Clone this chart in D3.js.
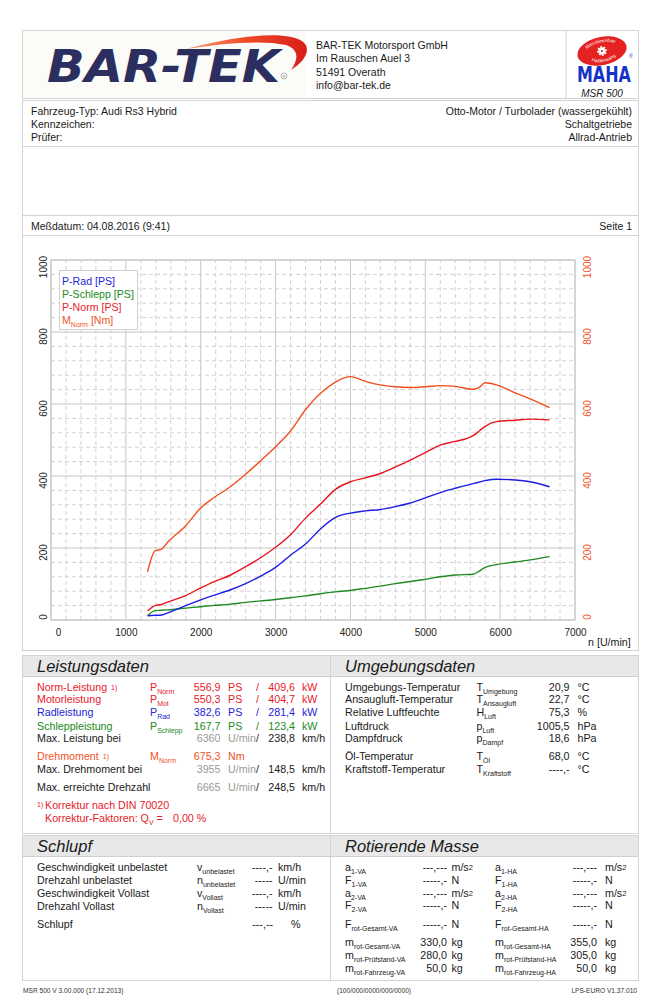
<!DOCTYPE html>
<html><head><meta charset="utf-8">
<script src="https://cdn.jsdelivr.net/npm/d3@7"></script>
<style>body{margin:0;background:#fff} svg{display:block;font-family:"Liberation Sans",Arial,sans-serif}</style>
</head><body><svg id="c" width="659" height="1000"></svg>
<script>
// ---------- chart data ----------
const rpm      = [1290,1390,1480,1550,1800,2000,2150,2400,2600,2800,3000,3200,3400,3600,3800,4000,4200,4400,4600,4800,5000,5200,5400,5640,5720,5800,5950,6200,6400,6660];
const mNorm    = [134,192,197,214,262,311,336,371,405,442,481,525,584,630,661,676,663,653,648,646,648,651,649,641,646,659,653,631,614,590];
const pNorm    = [25,40,43,49,68,89,104,125,148,173,202,237,283,322,363,384,395,407,425,444,465,486,496,512,525,538,551,555,558,556];
const pRad     = [12,13,14,19,40,56,67,84,101,122,146,180,211,253,285,297,303,307,315,325,339,354,366,379,383,387,391,389,384,370];
const pSchlepp = [12,26,27,28,33,37,40,44,49,53,57,62,67,73,78,82,88,94,101,107,113,120,125,127,136,146,154,161,167,176];
const xTicks = [0,1000,2000,3000,4000,5000,6000,7000];
const yTicks = [0,200,400,600,800,1000];
const legendNames = ["P-Rad [PS]","P-Schlepp [PS]","P-Norm [PS]","M"];

const RED="#e8202a", BLUE="#2424d8", GREEN="#218a21", ORANGE="#f0521f", GRAY="#9a9a9a", INK="#1a1a1a";

const svg = d3.select("#c");
const line = (x1,y1,x2,y2,c="#d4d4d4") => svg.append("line").attr("x1",x1).attr("y1",y1).attr("x2",x2).attr("y2",y2).attr("stroke",c).attr("stroke-width",1);
const box = (x,y,w,h,fill="none") => svg.append("rect").attr("x",x+0.5).attr("y",y+0.5).attr("width",w).attr("height",h).attr("fill",fill).attr("stroke","#d4d4d4");
function t(x,y,s,o={}){
  const e = svg.append("text").attr("x",x).attr("y",y).text(s)
    .style("font-size",(o.size||10.7)+"px").attr("fill",o.fill||INK);
  if(o.anchor) e.attr("text-anchor",o.anchor);
  if(o.italic) e.style("font-style","italic");
  if(o.weight) e.style("font-weight",o.weight);
  return e;
}
function sym(x,y,main,sub,fill=INK,size=10.7){
  const e = svg.append("text").attr("x",x).attr("y",y).attr("fill",fill).style("font-size",size+"px");
  e.append("tspan").text(main);
  e.append("tspan").attr("dy",3).style("font-size","7px").text(sub);
  return e;
}

// ---------- header ----------
box(22,30,616,68);
svg.append("rect").attr("x",23).attr("y",31).attr("width",284).attr("height",67).attr("fill","#fbfbf7");
line(566,30,566,98);
const defs = svg.append("defs");
const grad = defs.append("linearGradient").attr("id","sw").attr("x1","0").attr("x2","1");
grad.append("stop").attr("offset","0").attr("stop-color","#f7a07a");
grad.append("stop").attr("offset","0.5").attr("stop-color","#ee4a26");
grad.append("stop").attr("offset","1").attr("stop-color","#d81e1a");
svg.append("path").attr("d","M 186 49 C 228 38, 280 29, 302 41 C 313 49, 304 62, 291 70 C 298 60, 300 50, 286 45 C 262 40, 226 43, 186 49 Z").attr("fill","url(#sw)");
t(47,82,"BAR-TEK",{size:44,weight:"bold",italic:true,fill:"#2b2f60"})
  .attr("textLength",233).attr("lengthAdjust","spacingAndGlyphs").style("font-family","DejaVu Sans");
svg.append("circle").attr("cx",284).attr("cy",76).attr("r",3).attr("fill","none").attr("stroke","#888").attr("stroke-width",0.6);
t(284,78,"R",{size:4,anchor:"middle",fill:"#888"});
["BAR-TEK Motorsport GmbH","Im Rauschen Auel 3","51491 Overath","info@bar-tek.de"].forEach((s,i)=>t(316,49+i*13.3,s,{size:10.5}));

// MAHA emblem
const mg = svg.append("g").attr("transform","rotate(-12,602,51)");
mg.append("ellipse").attr("cx",602).attr("cy",51).attr("rx",25).attr("ry",14).attr("fill","#e42222");
defs.append("path").attr("id","arcT").attr("d","M 583 52 A 19 9.5 0 0 1 621 52");
defs.append("path").attr("id","arcB").attr("d","M 585 51 A 17 11 0 0 0 619 51");
mg.append("text").style("font-size","4.6px").attr("fill","#fff").append("textPath").attr("href","#arcT").attr("startOffset","50%").attr("text-anchor","middle").text("Maschinenbau");
mg.append("text").style("font-size","4.6px").attr("fill","#fff").append("textPath").attr("href","#arcB").attr("startOffset","50%").attr("text-anchor","middle").text("Haldenwang");
for(let k=0;k<8;k++){ mg.append("rect").attr("x",601).attr("y",46.2).attr("width",2).attr("height",2.2).attr("fill","#fff").attr("transform",`rotate(${k*45},602,51)`); }
mg.append("circle").attr("cx",602).attr("cy",51).attr("r",3.2).attr("fill","#fff");
mg.append("circle").attr("cx",602).attr("cy",51).attr("r",1.1).attr("fill","#e42222");
svg.append("text").attr("transform","translate(577,82) scale(0.76,1)").text("MAHA")
  .style("font-size","21px").style("font-weight","bold").style("font-family","DejaVu Sans").attr("fill","#1434c8");
t(629,58,"®",{size:5,fill:"#1434c8"});
t(602,96.5,"MSR 500",{size:10,italic:true,anchor:"middle"});

// ---------- info rows ----------
box(22,100,616,46);
box(22,146,616,69);
box(22,215,616,20);
t(31,115,"Fahrzeug-Typ: Audi Rs3 Hybrid",{size:10.5});
t(31,128,"Kennzeichen:",{size:10.5});
t(31,141,"Prüfer:",{size:10.5});
t(632,115,"Otto-Motor / Turbolader (wassergekühlt)",{size:10.5,anchor:"end"});
t(632,128,"Schaltgetriebe",{size:10.5,anchor:"end"});
t(632,141,"Allrad-Antrieb",{size:10.5,anchor:"end"});
t(31,230,"Meßdatum: 04.08.2016 (9:41)",{size:10.5});
t(632,230,"Seite 1",{size:10.5,anchor:"end"});

// ---------- chart ----------
box(22,235,616,415);
const x = d3.scaleLinear().domain([0,7000]).range([51,575]);
const y = d3.scaleLinear().domain([0,1000]).range([620,260]);
const grid = svg.append("g");
d3.range(0,7001,200).forEach(v=>{
  const major = v%1000===0;
  grid.append("line").attr("x1",x(v)).attr("x2",x(v)).attr("y1",y(0)).attr("y2",y(1000))
    .attr("stroke",major?"#c6c6c6":"#d2d2d2").attr("stroke-dasharray",major?null:"4,3");
});
d3.range(0,1001,40).forEach(v=>{
  const major = v%200===0;
  grid.append("line").attr("x1",x(0)).attr("x2",x(7000)).attr("y1",y(v)).attr("y2",y(v))
    .attr("stroke",major?"#c6c6c6":"#d2d2d2").attr("stroke-dasharray",major?null:"4,3");
});
svg.append("rect").attr("x",x(0)).attr("y",y(1000)).attr("width",x(7000)-x(0)).attr("height",y(0)-y(1000)).attr("fill","none").attr("stroke","#c6c6c6");

// axes
const xa = svg.append("g").attr("transform",`translate(0,${y(0)})`)
  .call(d3.axisBottom(x).tickValues(xTicks).tickSize(0).tickPadding(9).tickFormat(d3.format("d")));
xa.select(".domain").remove();
xa.selectAll("text").style("font-size","10px").attr("fill","#222").style("font-family","Liberation Sans, Arial")
  .attr("dx",d=>d===0?7:0);
function yShift(d){ return d===0?-3.5:(d===1000?6.5:4); }
const ya = svg.append("g").attr("transform",`translate(${x(0)},0)`)
  .call(d3.axisLeft(y).tickValues(yTicks).tickSize(0).tickFormat(d3.format("d")));
ya.select(".domain").remove();
ya.selectAll("text").attr("x",null).attr("dy",null).attr("text-anchor","middle")
  .attr("transform",d=>`translate(${43.5-x(0)},${yShift(d)}) rotate(-90)`).attr("dy","0.35em")
  .style("font-size","10px").attr("fill","#222").style("font-family","Liberation Sans, Arial");
const yr = svg.append("g").attr("transform",`translate(${x(7000)},0)`)
  .call(d3.axisRight(y).tickValues(yTicks).tickSize(0).tickFormat(d3.format("d")));
yr.select(".domain").remove();
yr.selectAll("text").attr("x",null).attr("dy",null).attr("text-anchor","middle")
  .attr("transform",d=>`translate(${587.5-x(7000)},${yShift(d)}) rotate(-90)`).attr("dy","0.35em")
  .style("font-size","10px").attr("fill",ORANGE).style("font-family","Liberation Sans, Arial");
t(588,645.5,"n [U/min]",{size:10.7});

// curves
const series = [
  {v:pSchlepp, c:"#1f8a22"},
  {v:pRad, c:"#1c1ce6"},
  {v:pNorm, c:"#e8141e"},
  {v:mNorm, c:"#f24e1e"}
];
const gen = d3.line().x((d,i)=>x(rpm[i])).y(d=>y(d)).curve(d3.curveMonotoneX);
series.forEach(s=>svg.append("path").attr("d",gen(s.v)).attr("fill","none").attr("stroke",s.c).attr("stroke-width",1.4));

// legend
svg.append("rect").attr("x",59.5).attr("y",270.5).attr("width",78).attr("height",59).attr("fill","#fff").attr("stroke","#d0d0d0");
const legCols = [BLUE,GREEN,RED,ORANGE];
legendNames.forEach((n,i)=>{
  const e = t(62,284.5+i*13.3,"",{size:10.6,fill:legCols[i]});
  if(i<3) e.text(n);
  else { e.append("tspan").text(n); e.append("tspan").attr("dy",3).style("font-size","7px").text("Norm"); e.append("tspan").attr("dy",-3).text(" [Nm]"); }
});

// ---------- Leistungsdaten / Umgebungsdaten ----------
function section(x0,y0,w,h,title){
  box(x0,y0,w,h);
  svg.append("rect").attr("x",x0+1).attr("y",y0+1).attr("width",w-1).attr("height",20).attr("fill","#e8e8e8");
  line(x0,y0+21.5,x0+w,y0+21.5,"#cfcfcf");
  t(x0+15,y0+17,title,{size:16.5,italic:true});
}
section(22,655,308,178,"Leistungsdaten");
section(330,655,308,178,"Umgebungsdaten");

const powerRows = [
  ["Norm-Leistung",true,"Norm","556,9","409,6",RED],
  ["Motorleistung",false,"Mot","550,3","404,7",RED],
  ["Radleistung",false,"Rad","382,6","281,4",BLUE],
  ["Schleppleistung",false,"Schlepp","167,7","123,4",GREEN]
];
powerRows.forEach((r,i)=>{
  const yy = [690.5,703.2,716,729.5][i];
  const e = t(37,yy,r[0],{fill:r[5]});
  if(r[1]) e.append("tspan").attr("dx",4).attr("dy",-1).style("font-size","7px").text("1)");
  sym(150,yy,"P",r[2],r[5]);
  t(220.5,yy,r[3],{fill:r[5],anchor:"end"});
  t(228,yy,"PS",{fill:r[5]});
  t(256,yy,"/",{fill:r[5]});
  t(295,yy,r[4],{fill:r[5],anchor:"end"});
  t(302,yy,"kW",{fill:r[5]});
});
const speedRows = [
  ["Max. Leistung bei","6360","238,8",742.2],
  ["Max. Drehmoment bei","3955","148,5",773.2],
  ["Max. erreichte Drehzahl","6665","248,5",791.2]
];
speedRows.forEach(r=>{
  t(37,r[3],r[0]);
  t(220.5,r[3],r[1],{fill:GRAY,anchor:"end"});
  const u = t(228,r[3],"U/min",{fill:GRAY}); u.append("tspan").attr("fill",INK).text("/");
  t(295,r[3],r[2],{anchor:"end"});
  t(302,r[3],"km/h");
});
{ const e = t(37,760,"Drehmoment",{fill:ORANGE}); e.append("tspan").attr("dx",4).attr("dy",-1).style("font-size","7px").text("1)"); }
sym(150,760,"M","Norm",ORANGE);
t(220.5,760,"675,3",{fill:ORANGE,anchor:"end"});
t(228,760,"Nm",{fill:ORANGE});
t(37,807,"1)",{size:7,fill:RED});
t(45,809,"Korrektur nach DIN 70020",{fill:RED});
{ const e = t(45,822,"Korrektur-Faktoren: Q",{fill:RED}); e.append("tspan").attr("dy",3).style("font-size","7px").text("V"); e.append("tspan").attr("dy",-3).text(" ="); }
t(173,822,"0,00 %",{fill:RED});

const envRows = [
  ["Umgebungs-Temperatur","T","Umgebung","20,9","°C",690.5],
  ["Ansaugluft-Temperatur","T","Ansaugluft","22,7","°C",703.2],
  ["Relative Luftfeuchte","H","Luft","75,3","%",716],
  ["Luftdruck","p","Luft","1005,5","hPa",729.5],
  ["Dampfdruck","p","Dampf","18,6","hPa",742.2],
  ["Öl-Temperatur","T","Öl","68,0","°C",760],
  ["Kraftstoff-Temperatur","T","Kraftstoff","----,-","°C",773.2]
];
envRows.forEach(r=>{
  t(345,r[5],r[0]);
  sym(476.5,r[5],r[1],r[2]);
  t(569.5,r[5],r[3],{anchor:"end"});
  t(577.5,r[5],r[4]);
});

// ---------- Schlupf / Rotierende Masse ----------
section(22,835,308,145,"Schlupf");
section(330,835,308,145,"Rotierende Masse");
const slipRows = [
  ["Geschwindigkeit unbelastet","v","unbelastet","----,-","km/h",871],
  ["Drehzahl unbelastet","n","unbelastet","-----","U/min",884],
  ["Geschwindigkeit Vollast","v","Vollast","----,-","km/h",897],
  ["Drehzahl Vollast","n","Vollast","-----","U/min",910]
];
slipRows.forEach(r=>{
  t(37,r[5],r[0]);
  sym(197,r[5],r[1],r[2]);
  t(272.5,r[5],r[3],{anchor:"end"});
  t(278,r[5],r[4]);
});
t(37,928,"Schlupf");
t(273,928,"---,--",{anchor:"end"});
t(291,928,"%");

const rotLeft = [
  ["a","1-VA","---,---","m/s","2",871],
  ["F","1-VA","-----,-","N","",883.5],
  ["a","2-VA","---,---","m/s","2",896.5],
  ["F","2-VA","-----,-","N","",909],
  ["F","rot-Gesamt-VA","-----,-","N","",928],
  ["m","rot-Gesamt-VA","330,0","kg","",946],
  ["m","rot-Prüfstand-VA","280,0","kg","",959],
  ["m","rot-Fahrzeug-VA","50,0","kg","",972]
];
const rotRight = [
  ["a","1-HA","---,---","m/s","2",871],
  ["F","1-HA","-----,-","N","",883.5],
  ["a","2-HA","---,---","m/s","2",896.5],
  ["F","2-HA","-----,-","N","",909],
  ["F","rot-Gesamt-HA","-----,-","N","",928],
  ["m","rot-Gesamt-HA","355,0","kg","",946],
  ["m","rot-Prüfstand-HA","305,0","kg","",959],
  ["m","rot-Fahrzeug-HA","50,0","kg","",972]
];
function rot(rows,xs,xv,xu){
  rows.forEach(r=>{
    sym(xs,r[5],r[0],r[1]);
    t(xv,r[5],r[2],{anchor:"end"});
    const u = t(xu,r[5],r[3]);
    if(r[4]) u.append("tspan").attr("dy",-1).style("font-size","7.5px").text(r[4]);
  });
}
rot(rotLeft,345,447,451.5);
rot(rotRight,495,597,605);

// footer
t(23,993,"MSR 500 V 3.00.000 (17.12.2013)",{size:6.6,fill:"#333"});
t(337,993,"(100/000/0000/000/0000)",{size:6.6,fill:"#333"});
t(637,993,"LPS-EURO V1.37.010",{size:6.6,fill:"#333",anchor:"end"});
</script></body></html>
